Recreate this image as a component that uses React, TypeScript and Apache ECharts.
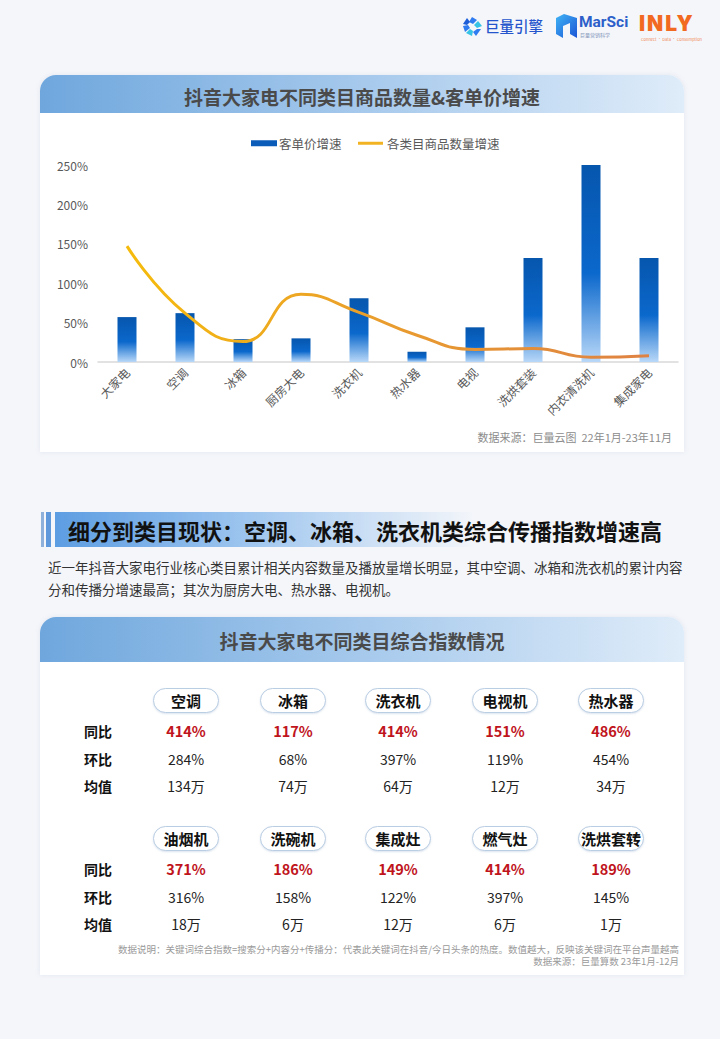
import React, { useEffect, useRef } from 'react';
import * as echarts from 'echarts';

const FONT = '"Noto Sans CJK SC", "Noto Sans", sans-serif';

// ---- chart data ----
const categories = ['大家电', '空调', '冰箱', '厨房大电', '洗衣机', '热水器', '电视', '洗烘套装', '内衣清洗机', '集成家电'];
const priceGrowth = [57, 62, 29, 30, 81, 13, 44, 132, 250, 132];
const countGrowth = [147, 62, 26, 86, 63, 34, 16, 17, 6, 8];
const barName = '客单价增速';
const lineName = '各类目商品数量增速';

// ---- table data ----
const rowLabels = ['同比', '环比', '均值'];
const groupANames = ['空调', '冰箱', '洗衣机', '电视机', '热水器'];
const groupAYoY = ['414%', '117%', '414%', '151%', '486%'];
const groupAMoM = ['284%', '68%', '397%', '119%', '454%'];
const groupAAvg = ['134万', '74万', '64万', '12万', '34万'];
const groupBNames = ['油烟机', '洗碗机', '集成灶', '燃气灶', '洗烘套转'];
const groupBYoY = ['371%', '186%', '149%', '414%', '189%'];
const groupBMoM = ['316%', '158%', '122%', '397%', '145%'];
const groupBAvg = ['18万', '6万', '12万', '6万', '1万'];

type TProps = {
  x: number; y: number; size: number; weight?: number | string; color?: string;
  align?: 'left' | 'center' | 'right'; children: React.ReactNode; family?: string; spacing?: number;
};
const T = ({ x, y, size, weight = 400, color = '#222', align = 'left', children, family, spacing }: TProps) => {
  const tx = align === 'left' ? '0' : align === 'center' ? '-50%' : '-100%';
  return (
    <div style={{
      position: 'absolute', left: x, top: y, transform: `translate(${tx}, -50%)`, fontSize: size,
      fontWeight: weight as any, color, whiteSpace: 'nowrap', lineHeight: 1, fontFamily: family || FONT,
      letterSpacing: spacing,
    }}>{children}</div>
  );
};

const Chart = () => {
  const ref = useRef<HTMLDivElement>(null);
  useEffect(() => {
    if (!ref.current) return;
    const chart = echarts.init(ref.current, undefined, { renderer: 'svg' });
    chart.setOption({
      animation: false,
      textStyle: { fontFamily: FONT },
      legend: [
        {
          data: [{ name: barName, itemStyle: { color: '#0b5cb8' } }],
          left: 211, top: 24, padding: 0, itemWidth: 26, itemHeight: 6, icon: 'rect',
          textStyle: { fontSize: 12.5, color: '#595959', padding: [0, 0, 0, -3] },
        },
        {
          data: [{ name: lineName, itemStyle: { color: '#f2b322' } }],
          left: 318, top: 24, padding: 0, itemWidth: 25, itemHeight: 3, icon: 'rect',
          textStyle: { fontSize: 12.5, color: '#595959', padding: [0, 0, 0, -1] },
        },
      ],
      grid: { left: 58, right: 6, top: 52, bottom: 90 },
      xAxis: {
        type: 'category',
        data: categories,
        axisLine: { lineStyle: { color: '#d9d9d9', width: 1.5 } },
        axisTick: { show: false },
        axisLabel: { rotate: 45, fontSize: 12, color: '#595959', margin: 8, interval: 0 },
      },
      yAxis: {
        type: 'value', min: 0, max: 250, interval: 50,
        splitLine: { show: false }, axisLine: { show: false }, axisTick: { show: false },
        axisLabel: { formatter: '{value}%', fontSize: 12, color: '#595959', margin: 10 },
      },
      series: [
        {
          name: barName, type: 'bar', data: priceGrowth, barWidth: 19,
          itemStyle: {
            color: new echarts.graphic.LinearGradient(0, 0, 0, 1, [
              { offset: 0, color: '#0656ad' },
              { offset: 0.55, color: '#0b68cc' },
              { offset: 1, color: '#b9d8f8' },
            ]),
          },
        },
        {
          name: lineName, type: 'line', data: countGrowth, smooth: 0.5, showSymbol: false, z: 5,
          lineStyle: {
            width: 3,
            color: new echarts.graphic.LinearGradient(0, 0, 1, 0, [
              { offset: 0, color: '#f5bb0c' },
              { offset: 0.5, color: '#e99c2e' },
              { offset: 1, color: '#de8243' },
            ]),
          },
          itemStyle: { color: '#f2b322' },
        },
      ],
      graphic: [
        {
          type: 'text', right: 12, top: 318,
          style: { text: '数据来源：巨量云图  22年1月-23年11月', fontSize: 11, fill: '#8c8c8c', fontFamily: FONT },
        },
      ],
    });
    return () => chart.dispose();
  }, []);
  return <div ref={ref} style={{ position: 'absolute', left: 40, top: 113, width: 644, height: 339 }} />;
};

const colCenters = [186, 293, 398, 505, 611];

const Block = ({ top, names, yoy, mom, avg }: { top: number; names: string[]; yoy: string[]; mom: string[]; avg: string[] }) => {
  const rowsY = [top + 31, top + 59, top + 86];
  return (
    <>
      {names.map((n, i) => (
        <div key={'p' + i} style={{
          position: 'absolute', left: colCenters[i] - 33, top: top - 12.5, width: 66, height: 25,
          borderRadius: 13, border: '1px solid #b9cde3', background: '#fff', boxSizing: 'border-box',
          boxShadow: '0 1px 2px rgba(120,150,190,0.25)',
        }} />
      ))}
      {names.map((n, i) => (
        <T key={'n' + i} x={colCenters[i]} y={top} size={15} weight={700} color="#111" align="center">{n}</T>
      ))}
      {rowLabels.map((r, i) => (
        <T key={'r' + i} x={84} y={rowsY[i]} size={14} weight={700} color="#111">{r}</T>
      ))}
      {yoy.map((v, i) => (
        <T key={'y' + i} x={colCenters[i]} y={rowsY[0]} size={14.5} weight={700} color="#c0141c" align="center">{v}</T>
      ))}
      {mom.map((v, i) => (
        <T key={'m' + i} x={colCenters[i]} y={rowsY[1]} size={14} color="#222" align="center">{v}</T>
      ))}
      {avg.map((v, i) => (
        <T key={'a' + i} x={colCenters[i]} y={rowsY[2]} size={14} color="#222" align="center">{v}</T>
      ))}
    </>
  );
};

const Logos = () => (
  <>
    <svg style={{ position: 'absolute', left: 462, top: 16 }} width={21} height={21} viewBox="0 0 21 21">
      <polygon points="10,1 15,4 11,8 7,6" fill="#2f7bf0" />
      <polygon points="16,5 20,10 15,12 12,9" fill="#36c3e6" />
      <polygon points="19,13 14,20 11,16 15,13" fill="#2f7bf0" />
      <polygon points="10,20 4,17 8,13 11,15" fill="#36c3e6" />
      <polygon points="3,16 1,10 6,9 8,12" fill="#2f7bf0" />
      <polygon points="1,8 5,2 8,6 5,9" fill="#1e5fd8" />
    </svg>
    <T x={485} y={26} size={14.5} weight={500} color="#2455cc">巨量引擎</T>
    <svg style={{ position: 'absolute', left: 556, top: 14 }} width={21} height={24} viewBox="0 0 21 24">
      <defs>
        <linearGradient id="msg" x1="0" y1="0" x2="1" y2="1">
          <stop offset="0" stopColor="#3fb4f5" />
          <stop offset="1" stopColor="#1b55d6" />
        </linearGradient>
      </defs>
      <polygon points="0,4 8,0 21,4 21,24 14,20 14,9 7,12 7,24 0,20" fill="url(#msg)" />
    </svg>
    <T x={579} y={23} size={15.5} weight={700} color="#2c5fc9" family="Roboto, sans-serif">MarSci</T>
    <T x={580} y={34} size={5} color="#7f93b8">巨量营销科学</T>
    <T x={639} y={23} size={21} weight={900} color="#f26a22" family="Inter, sans-serif" spacing={2}>INLY</T>
    <T x={641} y={38.5} size={4} color="#f28a55">Connect · Data · Consumption</T>
  </>
);

export default function App() {
  return (
    <div style={{
      position: 'absolute', left: 0, top: 0, width: 720, height: 1039, background: '#f4f6fa',
      overflow: 'hidden', fontFamily: FONT,
    }}>
      <Logos />

      {/* card 1 */}
      <div style={{
        position: 'absolute', left: 40, top: 75, width: 644, height: 377, background: '#fff',
        borderRadius: '16px 16px 0 0', boxShadow: '0 0 5px rgba(150,160,190,0.18)',
      }} />
      <div style={{
        position: 'absolute', left: 40, top: 75, width: 644, height: 38, borderRadius: '16px 16px 0 0',
        background: 'linear-gradient(90deg, #6fa7dd 0%, #a6c9ec 50%, #dfecf9 100%)',
      }} />
      <T x={362} y={96} size={19} weight={700} color="#4a4a4a" align="center">抖音大家电不同类目商品数量&amp;客单价增速</T>
      <Chart />

      {/* section heading */}
      <div style={{ position: 'absolute', left: 41, top: 512, width: 2.5, height: 35, background: '#8eb0da' }} />
      <div style={{ position: 'absolute', left: 46, top: 512, width: 5, height: 35, background: '#5f98db' }} />
      <div style={{
        position: 'absolute', left: 55, top: 512, width: 420, height: 35,
        background: 'linear-gradient(90deg, #5d9de2 0%, #9cc4ee 45%, rgba(244,246,250,0) 100%)',
      }} />
      <T x={68} y={530} size={22} weight={700} color="#111">细分到类目现状：空调、冰箱、洗衣机类综合传播指数增速高</T>
      <T x={48} y={568} size={13.5} color="#333">近一年抖音大家电行业核心类目累计相关内容数量及播放量增长明显，其中空调、冰箱和洗衣机的累计内容</T>
      <T x={48} y={590} size={13.5} color="#333">分和传播分增速最高；其次为厨房大电、热水器、电视机。</T>

      {/* card 2 */}
      <div style={{
        position: 'absolute', left: 40, top: 617, width: 644, height: 358, background: '#fff',
        borderRadius: '16px 16px 0 0', boxShadow: '0 0 5px rgba(150,160,190,0.18)',
      }} />
      <div style={{
        position: 'absolute', left: 40, top: 617, width: 644, height: 45, borderRadius: '16px 16px 0 0',
        background: 'linear-gradient(90deg, #6fa7dd 0%, #a6c9ec 50%, #dfecf9 100%)',
      }} />
      <T x={362} y={640} size={19} weight={700} color="#4a4a4a" align="center">抖音大家电不同类目综合指数情况</T>

      <Block top={700} names={groupANames} yoy={groupAYoY} mom={groupAMoM} avg={groupAAvg} />
      <Block top={838} names={groupBNames} yoy={groupBYoY} mom={groupBMoM} avg={groupBAvg} />

      <T x={679} y={950} size={9.5} color="#9a9a9a" align="right">数据说明：关键词综合指数=搜索分+内容分+传播分：代表此关键词在抖音/今日头条的热度。数值越大，反映该关键词在平台声量越高</T>
      <T x={679} y={962} size={9.5} color="#9a9a9a" align="right">数据来源：巨量算数  23年1月-12月</T>
    </div>
  );
}
